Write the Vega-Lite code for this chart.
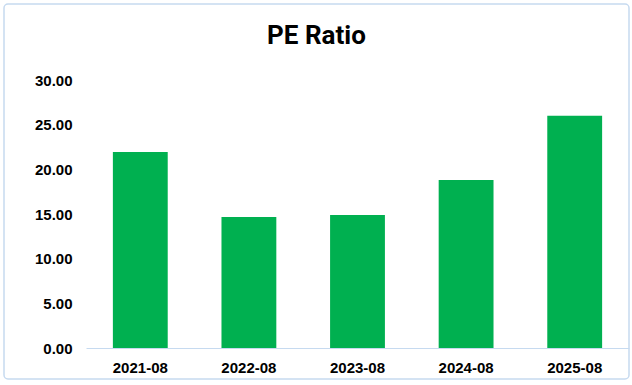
{
  "$schema": "https://vega.github.io/schema/vega-lite/v6.json",
  "width": 625,
  "height": 375,
  "autosize": {"type": "none"},
  "padding": {"left": 4, "top": 4, "right": 3, "bottom": 6},
  "background": "white",
  "title": {
    "text": "PE Ratio",
    "font": "Roboto",
    "fontSize": 26,
    "fontWeight": "bold",
    "color": "#000000",
    "anchor": "middle",
    "baseline": "middle",
    "offset": -58
  },
  "data": {
    "values": [
      {"period": "2021-08", "pe": 21.95},
      {"period": "2022-08", "pe": 14.67},
      {"period": "2023-08", "pe": 14.9},
      {"period": "2024-08", "pe": 18.8},
      {"period": "2025-08", "pe": 26.0}
    ]
  },
  "mark": {"type": "bar", "color": "#00B050"},
  "encoding": {
    "x": {
      "field": "period",
      "type": "ordinal",
      "sort": null,
      "scale": {"range": [82, 625], "paddingInner": 0.495, "paddingOuter": 0.2475},
      "axis": {
        "title": null,
        "labelAngle": 0,
        "labelFont": "Liberation Sans",
        "labelFontSize": 15,
        "labelFontWeight": "bold",
        "labelColor": "#000000",
        "labelPadding": 12,
        "ticks": false,
        "domainColor": "#c6daf0",
        "domainWidth": 1,
        "offset": -31
      }
    },
    "y": {
      "field": "pe",
      "type": "quantitative",
      "scale": {"domain": [0, 30], "range": [344, 76], "nice": false},
      "axis": {
        "title": null,
        "values": [0, 5, 10, 15, 20, 25, 30],
        "format": ".2f",
        "labelFont": "Liberation Sans",
        "labelFontSize": 15,
        "labelFontWeight": "bold",
        "labelColor": "#000000",
        "labelPadding": 10,
        "ticks": false,
        "domain": false,
        "grid": false,
        "offset": -78
      }
    }
  },
  "config": {
    "view": {"stroke": "#c6daf0", "strokeWidth": 1.5, "cornerRadius": 4}
  }
}
